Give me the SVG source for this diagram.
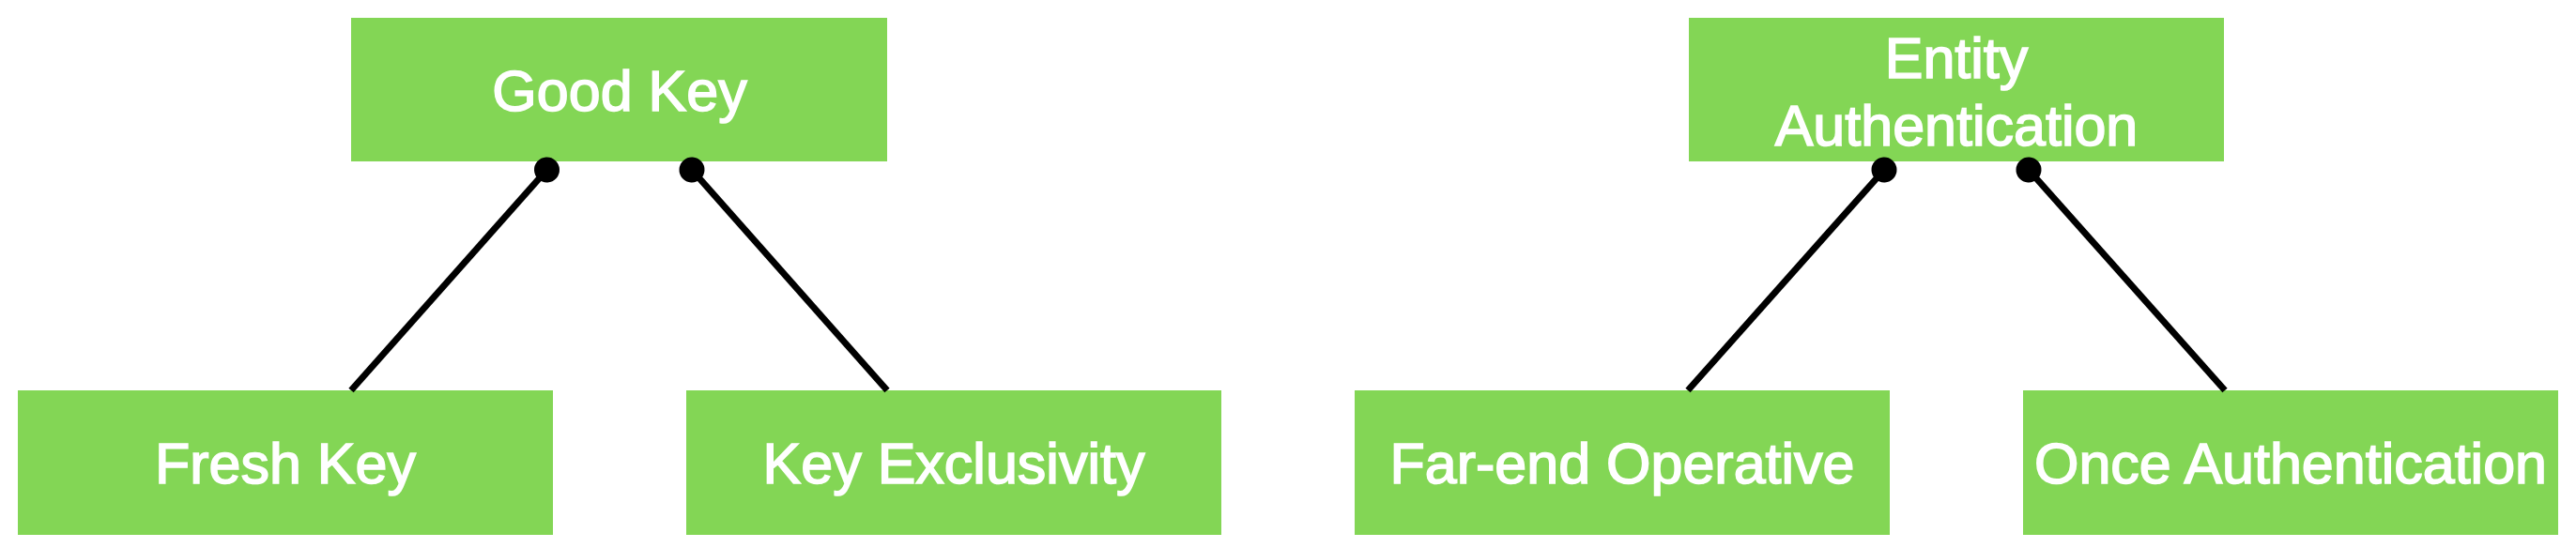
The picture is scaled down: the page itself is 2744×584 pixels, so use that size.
<svg xmlns="http://www.w3.org/2000/svg" width="2744" height="584" viewBox="0 0 2744 584">
<style>
.box{fill:#83D655;}
.lbl{fill:#ffffff;stroke:#ffffff;stroke-width:1.6px;font-family:"Liberation Sans",Arial,Helvetica,sans-serif;font-size:61px;text-anchor:middle;}
.conn{stroke:#000;stroke-width:7;fill:none;}
</style>
<defs>
<marker id="dot" markerUnits="userSpaceOnUse" markerWidth="30" markerHeight="30" refX="15" refY="15" orient="auto">
<circle cx="15" cy="15" r="13.5" fill="#000"/>
</marker>
</defs>
<rect width="2744" height="584" fill="#ffffff"/>
<g id="good-key"><rect class="box" x="374" y="19" width="571" height="153"/><text class="lbl" x="660" y="118">Good Key</text></g>
<g id="fresh-key"><rect class="box" x="19" y="416" width="570" height="154"/><text class="lbl" x="304" y="515">Fresh Key</text></g>
<g id="key-exclusivity"><rect class="box" x="731" y="416" width="570" height="154"/><text class="lbl" x="1016" y="515">Key Exclusivity</text></g>
<g id="entity-authentication"><rect class="box" x="1799" y="19" width="570" height="153"/><text class="lbl" x="2084" y="83">Entity</text><text class="lbl" x="2084" y="155">Authentication</text></g>
<g id="far-end-operative"><rect class="box" x="1443" y="416" width="570" height="154"/><text class="lbl" x="1728" y="515">Far-end Operative</text></g>
<g id="once-authentication"><rect class="box" x="2155" y="416" width="570" height="154"/><text class="lbl" x="2440" y="515">Once Authentication</text></g>
<g id="connectors">
<line class="conn" x1="582.5" y1="181" x2="374" y2="416" marker-start="url(#dot)"/>
<line class="conn" x1="737" y1="181" x2="945" y2="416" marker-start="url(#dot)"/>
<line class="conn" x1="2007" y1="181" x2="1798" y2="416" marker-start="url(#dot)"/>
<line class="conn" x1="2161" y1="181" x2="2370" y2="416" marker-start="url(#dot)"/>
</g>
</svg>
